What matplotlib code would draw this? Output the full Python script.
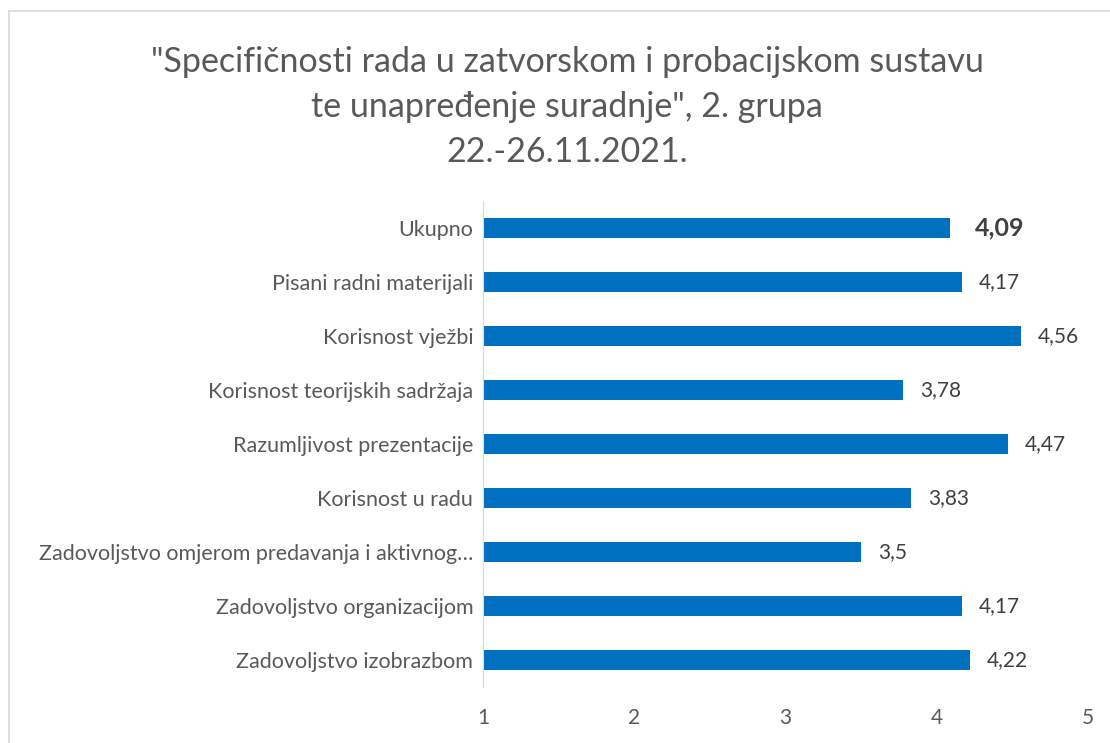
import matplotlib.pyplot as plt
from matplotlib.lines import Line2D

# data, top to bottom as shown
categories = ["Ukupno", "Pisani radni materijali", "Korisnost vježbi",
              "Korisnost teorijskih sadržaja", "Razumljivost prezentacije",
              "Korisnost u radu", "Zadovoljstvo omjerom predavanja i aktivnog…",
              "Zadovoljstvo organizacijom", "Zadovoljstvo izobrazbom"]
values = [4.09, 4.17, 4.56, 3.78, 4.47, 3.83, 3.5, 4.17, 4.22]
value_labels = ["4,09", "4,17", "4,56", "3,78", "4,47", "3,83", "3,5", "4,17", "4,22"]
xticks = [1, 2, 3, 4, 5]

plt.rcParams['font.family'] = ['Lato', 'DejaVu Sans']

fig = plt.figure(figsize=(11.1, 7.43), dpi=100)
ax = fig.add_axes([483/1110, 1-687/743, (1088-483)/1110, 486/743])

ypos = list(range(len(categories)))
ax.barh(ypos, [v - 1 for v in values], left=1, height=0.36, color="#0070C0")
ax.set_ylim(len(categories) - 0.5, -0.5)
ax.set_xlim(1, 5)

for i, (v, lab) in enumerate(zip(values, value_labels)):
    if i == 0:
        ax.annotate(lab, (v, i), xytext=(18, 0), textcoords="offset points",
                    va="center", ha="left", fontsize=18, fontweight="bold",
                    color="#404040")
    else:
        ax.annotate(lab, (v, i), xytext=(12, 0), textcoords="offset points",
                    va="center", ha="left", fontsize=15, color="#404040")

ax.set_yticks(ypos)
ax.set_yticklabels(categories, fontsize=15.5, color="#595959")
ax.set_xticks(xticks)
ax.set_xticklabels([str(t) for t in xticks], fontsize=15, color="#595959")
ax.tick_params(axis="both", length=0)
ax.tick_params(axis="y", pad=7)
ax.tick_params(axis="x", pad=15)
for s in ["top", "right", "bottom"]:
    ax.spines[s].set_visible(False)
ax.spines["left"].set_color("#D9D9D9")

fig.text(0.511, 1-107/743, "\"Specifičnosti rada u zatvorskom i probacijskom sustavu\n"
         "te unapređenje suradnje\", 2. grupa\n22.-26.11.2021.",
         ha="center", va="center", fontsize=24.5, color="#595959", linespacing=1.5)

# chart frame
fig.add_artist(Line2D([9/1110, 9/1110], [0, 1-11/743], transform=fig.transFigure,
                      color="#D9D9D9", lw=1.2))
fig.add_artist(Line2D([9/1110, 1], [1-11/743, 1-11/743], transform=fig.transFigure,
                      color="#D9D9D9", lw=1.2))

fig.savefig("out.png", dpi=100)
